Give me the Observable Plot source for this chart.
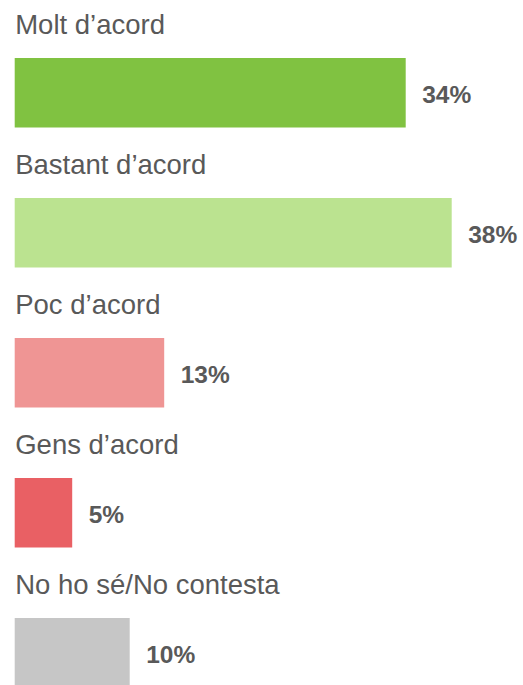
<!DOCTYPE html>
<html>
<head>
<meta charset="utf-8">
<script src="https://cdn.jsdelivr.net/npm/d3@7"></script>
<script src="https://cdn.jsdelivr.net/npm/@observablehq/plot@0.6"></script>
<style>
  html, body { margin: 0; padding: 0; background: #fff; overflow: hidden; }
  #chart svg { display: block; }
</style>
</head>
<body>
<div id="chart"></div>
<script>
const categories = ["Molt d’acord", "Bastant d’acord", "Poc d’acord", "Gens d’acord", "No ho sé/No contesta"];
const values = [34, 38, 13, 5, 10];
const colors = ["#80c241", "#bbe390", "#ef9594", "#e96064", "#c6c6c6"];
const valueLabels = ["34%", "38%", "13%", "5%", "10%"];

const data = categories.map((c, i) => ({category: c, value: values[i], color: colors[i], label: valueLabels[i]}));

const rowH = 140.5;
const chart = Plot.plot({
  width: 523,
  height: 685,
  marginTop: 0, marginBottom: 0, marginLeft: 0, marginRight: 0,
  style: {fontFamily: "'Liberation Sans', Arial, sans-serif", background: "#fff"},
  x: {domain: [0, 38], range: [14.7, 451.7], axis: null},
  y: {type: "band", domain: categories, range: [0, rowH * categories.length], padding: 0, axis: null},
  color: {type: "identity"},
  marks: [
    Plot.barX(data, {x: "value", y: "category", fill: "color", insetTop: 57, insetBottom: 13.5}),
    Plot.text(data, {x: 0, y: "category", text: "category", textAnchor: "start", lineAnchor: "bottom",
      dx: 0, dy: -38, fontSize: 27.5, fill: "#595959"}),
    Plot.text(data, {x: "value", y: "category", text: "label", textAnchor: "start", lineAnchor: "bottom",
      dx: 16, dy: 31.5, fontSize: 24.5, fontWeight: "bold", fill: "#595959"})
  ]
});
document.getElementById("chart").appendChild(chart);
</script>
</body>
</html>
